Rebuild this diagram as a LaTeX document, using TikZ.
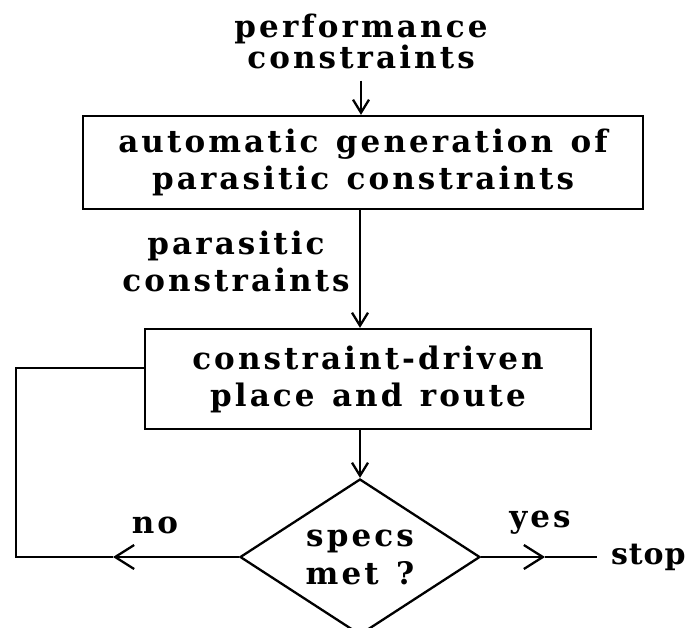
\documentclass[tikz,border=0pt]{standalone}
\usepackage{fontspec}
\setmainfont{DejaVu Serif}[LetterSpace=10, WordSpace=1.25]
\usetikzlibrary{arrows.meta,shapes.geometric}
\begin{document}
\begin{tikzpicture}[x=1pt,y=-1pt,
  every node/.style={inner sep=0pt, font=\bfseries\fontsize{31}{37}\selectfont},
  lnk/.style={line width=2.3pt},
  varr/.style={lnk, -{Straight Barb[length=13pt,width=16pt]}},
  harr/.style={lnk, -{Straight Barb[length=19pt,width=24pt]}},
  procbox/.style={draw, line width=2.3pt, align=center},
  lbl/.style={align=center}]
\useasboundingbox (0,0) rectangle (695,627);

\node[lbl, font=\bfseries\fontsize{31}{29}\selectfont] (perf) at (361,41) {performance\\constraints};
\node[procbox, minimum width=560pt, minimum height=93pt] (gen) at (363,162.5) {automatic generation of\\parasitic constraints};
\node[lbl] (para) at (236,261) {parasitic\\constraints};
\node[procbox, minimum width=446pt, minimum height=100pt] (pr) at (368,379) {constraint-driven\\place and route};
\node[draw, diamond, line width=2.3pt, aspect=1.54, minimum width=240pt, minimum height=156pt, align=center, font=\bfseries\fontsize{31}{38}\selectfont] (dec) at (360,557) {specs\\met ?};
\node[anchor=base] (no) at (155,533) {no};
\node[anchor=base] (yes) at (540,527) {yes};
\node[anchor=west, inner xsep=14pt, font=\bfseries\fontsize{30}{36}\selectfont\addfontfeature{LetterSpace=3}] (stop) at (597,557) {stop};

\coordinate (notip) at (113,557);
\coordinate (lc) at (16,557);
\coordinate (yestip) at (545,557);

\draw[varr] ([yshift=-12pt]perf.south) -- (perf.south |- gen.north);
\draw[varr] (dec.north |- gen.south) -- (dec.north |- pr.north);
\draw[varr] (dec.north |- pr.south) -- (dec.north);
\draw[harr] (dec.west) -- (notip);
\draw[lnk] (notip) -- (lc) |- ([yshift=11pt]pr.west);
\draw[harr] (dec.east) -- (yestip);
\draw[lnk] (yestip) -- (stop.west);
\end{tikzpicture}
\end{document}
